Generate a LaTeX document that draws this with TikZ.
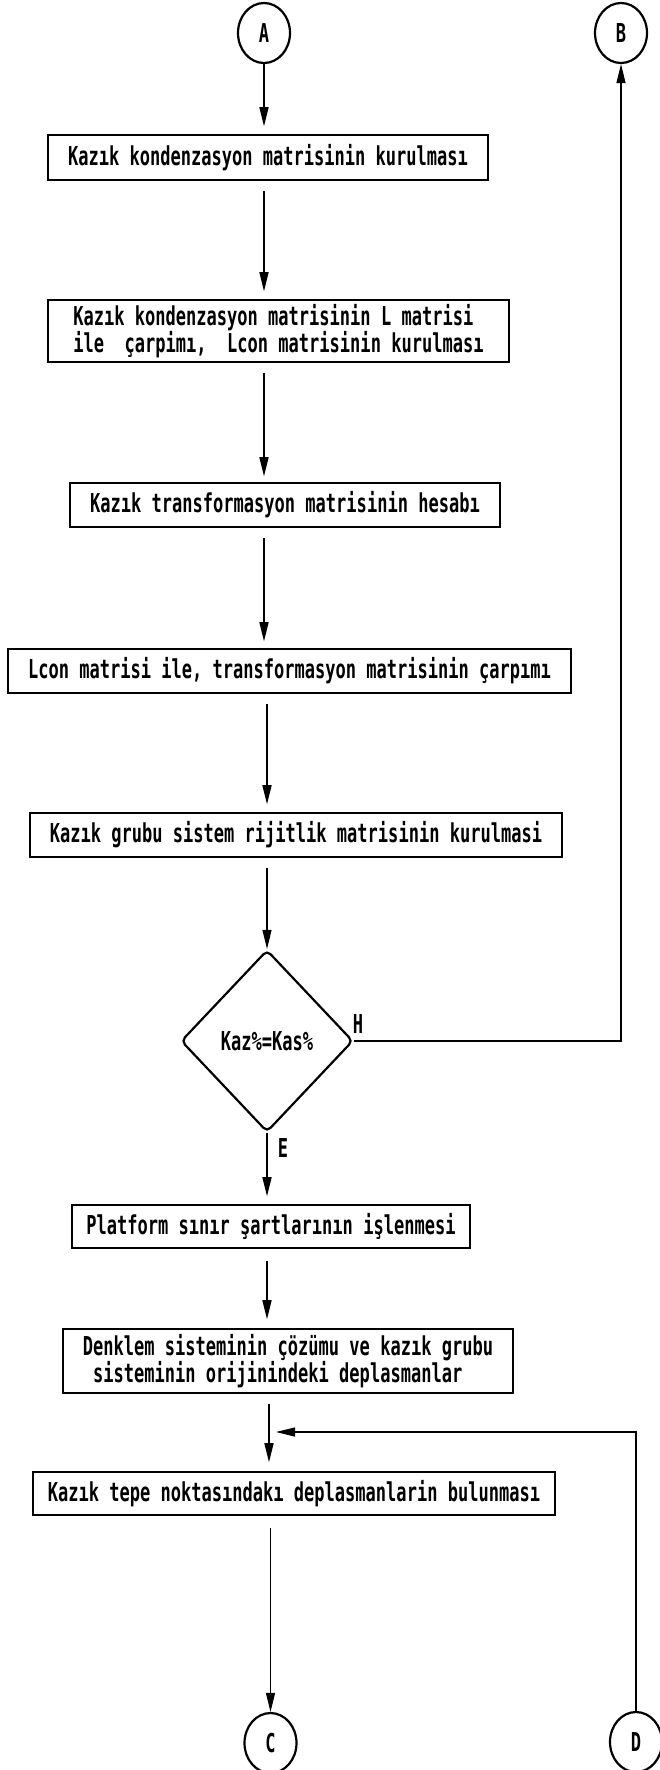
\documentclass[tikz,border=0pt]{standalone}
\usepackage{fontspec}
\usetikzlibrary{shapes.geometric,arrows.meta}
\newfontfamily\dos[FakeStretch=0.655]{DejaVu Sans Mono}
\tikzset{
  dosfont/.style={font={\dos\bfseries\fontsize{26}{23}\selectfont}},
  stepbox/.style={draw, line width=1.6pt, inner sep=0pt, dosfont, align=center},
  conn/.style={ellipse, draw, line width=2.2pt, minimum width=52pt, minimum height=60pt, inner sep=0pt, dosfont},
  arr/.style={line width=1.4pt, -{Triangle[length=19pt,width=9pt]}},
  lbl/.style={dosfont, inner sep=0pt}
}
\begin{document}
\begin{tikzpicture}[x=1pt,y=-1pt]
\useasboundingbox[fill=white] (0,0) rectangle (660,1770);

\node[conn] (A) at (264,33) {A};
\node[conn] (B) at (621,33) {B};

\node[stepbox, minimum width=440pt, minimum height=45pt] (b1) at (268,157.5)
  {Kazık kondenzasyon matrisinin kurulması};
\node[stepbox, minimum width=461pt, minimum height=62pt, align=left] (b2) at (278.5,331)
  {Kazık kondenzasyon matrisinin L matrisi\\ile~ çarpimı,~ Lcon matrisinin kurulması};
\node[stepbox, minimum width=430pt, minimum height=44pt] (b3) at (285,505)
  {Kazık transformasyon matrisinin hesabı};
\node[stepbox, minimum width=563pt, minimum height=44pt] (b4) at (289.5,671)
  {Lcon matrisi ile, transformasyon matrisinin çarpımı};
\node[stepbox, minimum width=532pt, minimum height=44pt] (b5) at (296,835)
  {Kazık grubu sistem rijitlik matrisinin kurulmasi};

\node[diamond, draw, line width=2.2pt, rounded corners=5pt, minimum width=172pt, minimum height=182pt, inner sep=0pt, dosfont] (dia) at (267,1041) {Kaz\%=Kas\%};

\node[stepbox, minimum width=398pt, minimum height=43pt] (b6) at (271,1226.5)
  {Platform sınır şartlarının işlenmesi};
\node[stepbox, minimum width=450pt, minimum height=64pt, align=left] (b7) at (288,1361)
  {Denklem sisteminin çözümu ve kazık grubu\\\phantom{s}sisteminin orijinindeki deplasmanlar};
\node[stepbox, minimum width=522pt, minimum height=43pt] (b8) at (294,1493.5)
  {Kazık tepe noktasındakı deplasmanlarin bulunması};

\node[conn] (C) at (270.5,1743) {C};
\node[conn] (D) at (636,1742) {D};

\node[lbl] (H) at (358,1024) {H};
\node[lbl] (E) at (283,1148) {E};

\coordinate (fb) at (269,1432);

% main flow
\draw[arr, shorten >=8pt] (A) -- (A |- b1.north);
\draw[arr, shorten <=10pt, shorten >=8pt] (A |- b1.south) -- (A |- b2.north);
\draw[arr, shorten <=10pt, shorten >=6pt] (A |- b2.south) -- (A |- b3.north);
\draw[arr, shorten <=10pt, shorten >=7pt] (A |- b3.south) -- (A |- b4.north);
\draw[arr, shorten <=10pt, shorten >=8pt] (dia |- b4.south) -- (dia |- b5.north);
\draw[arr, shorten <=10pt] (dia |- b5.south) -- (dia.north);
\draw[arr, shorten >=8pt] (dia.south) -- (dia |- b6.north);
\draw[arr, shorten <=12pt, shorten >=9pt] (dia |- b6.south) -- (dia |- b7.north);
\draw[arr, shorten <=10pt, shorten >=9pt] (fb |- b7.south) -- (fb |- b8.north);
\draw[arr, shorten <=12pt] (C |- b8.south) -- (C);

% loops
\draw[arr] (dia.east) -- (B |- dia.east) -- (B);
\draw[arr, shorten >=7pt] (D) -- (D |- fb) -- (fb);
\end{tikzpicture}
\end{document}
